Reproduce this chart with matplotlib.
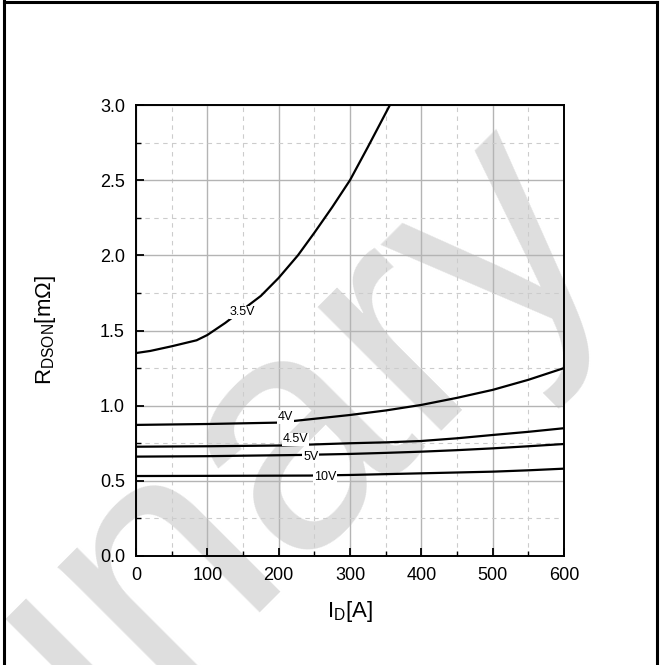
import numpy as np
import matplotlib
matplotlib.use("Agg")
from matplotlib import pyplot as plt
from matplotlib.lines import Line2D
from matplotlib.ticker import MultipleLocator

plt.rcParams['font.family'] = ['Liberation Sans', 'DejaVu Sans']
plt.rcParams['mathtext.fontset'] = 'custom'
plt.rcParams['mathtext.rm'] = 'Liberation Sans'
plt.rcParams['mathtext.it'] = 'Liberation Sans'

# Rdson vs Id
id_35 = [0, 20, 50, 85, 100, 125, 150, 175, 200, 227, 250, 275, 300, 325, 356]
r_35 = [1.35, 1.364, 1.395, 1.435, 1.47, 1.55, 1.64, 1.73, 1.85, 2.0, 2.15, 2.32, 2.5, 2.72, 3.0]

id_4 = [0, 100, 197, 221, 300, 350, 400, 450, 500, 550, 600]
r_4 = [0.872, 0.878, 0.887, 0.898, 0.938, 0.968, 1.005, 1.052, 1.105, 1.172, 1.25]

id_45 = [0, 100, 204, 300, 350, 400, 450, 500, 550, 600]
r_45 = [0.727, 0.730, 0.735, 0.75, 0.756, 0.765, 0.783, 0.805, 0.826, 0.85]

id_5 = [0, 100, 230, 300, 350, 400, 450, 500, 550, 600]
r_5 = [0.661, 0.664, 0.672, 0.679, 0.686, 0.694, 0.704, 0.716, 0.73, 0.745]

id_10 = [0, 100, 243, 300, 400, 500, 550, 600]
r_10 = [0.532, 0.533, 0.535, 0.539, 0.55, 0.561, 0.57, 0.581]

curves = [(id_35, r_35), (id_4, r_4), (id_45, r_45), (id_5, r_5), (id_10, r_10)]
labels = ['3.5V', '4V', '4.5V', '5V', '10V']
label_x = [149, 209, 224, 245, 265]
label_y = [1.62, 0.925, 0.776, 0.661, 0.528]

W, H = 660, 665
fig = plt.figure(figsize=(6.6, 6.65), dpi=100)

# watermark behind everything
fig.text(613 / W, 1 - 232 / H, 'Preliminary', fontsize=238, color='#dedede',
         rotation=45, rotation_mode='anchor', ha='right', va='baseline', zorder=-5)

ax = fig.add_axes([136 / W, 1 - 556 / H, 428 / W, 451 / H])
ax.patch.set_alpha(0)

for xs, ys in curves:
    ax.plot(xs, ys, color='black', lw=1.6, zorder=3)

for lab, lx, ly in zip(labels, label_x, label_y):
    ax.text(lx, ly, lab, fontsize=9, ha='center', va='center', zorder=4,
            bbox=dict(facecolor='white', edgecolor='none', pad=0.5))

ax.set_xlim(0, 600)
ax.set_ylim(0, 3.0)
ax.xaxis.set_major_locator(MultipleLocator(100))
ax.xaxis.set_minor_locator(MultipleLocator(50))
ax.yaxis.set_major_locator(MultipleLocator(0.5))
ax.yaxis.set_minor_locator(MultipleLocator(0.25))
ax.set_yticks(np.arange(0, 3.01, 0.5))
ax.set_yticklabels(['0.0', '0.5', '1.0', '1.5', '2.0', '2.5', '3.0'])

ax.grid(which='major', color='#b4b4b4', lw=1.0, ls='-')
ax.grid(which='minor', color='#cccccc', lw=0.8, ls=(0, (4, 4)))
ax.set_axisbelow(True)

ax.tick_params(which='major', direction='in', length=6, width=1.3, labelsize=13, pad=8)
ax.tick_params(which='minor', direction='in', length=3.5, width=1.0)
for s in ax.spines.values():
    s.set_linewidth(1.4)

ax.set_xlabel(r'$\mathregular{I_D[A]}$', fontsize=16, labelpad=11)
ax.set_ylabel(r'$\mathregular{R_{DSON}[m\Omega]}$', fontsize=16, labelpad=30)

# page frame: left, top, right
for (x0, y0, x1, y1) in [(3.5, 0, 3.5, H), (3.5, 1.5, 657, 1.5), (657, 1.5, 657, H)]:
    fig.add_artist(Line2D([x0 / W, x1 / W], [1 - y0 / H, 1 - y1 / H],
                          transform=fig.transFigure, color='black', lw=2.2))

fig.savefig('out.png', dpi=100)
